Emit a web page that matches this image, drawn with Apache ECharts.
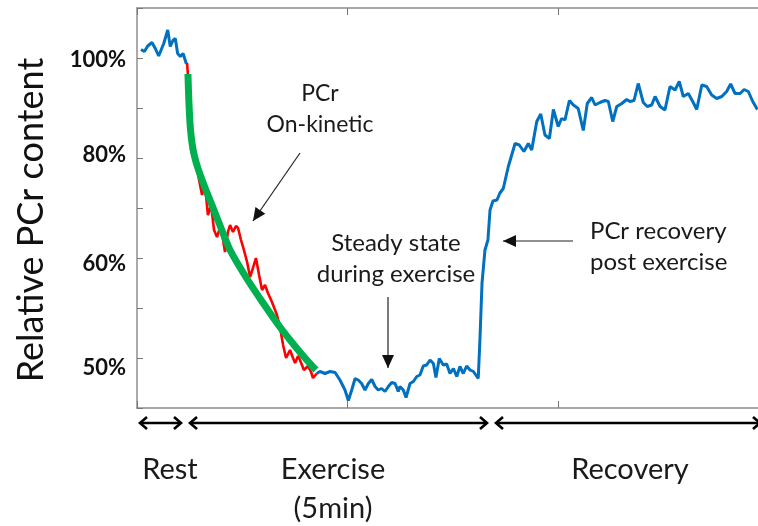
<!DOCTYPE html>
<html><head><meta charset="utf-8">
<script src="https://cdn.jsdelivr.net/npm/echarts@6/dist/echarts.min.js"></script>
<style>html,body{margin:0;padding:0;background:#fff}#c{width:758px;height:526px}</style>
</head><body><div id="c"></div>
<script>
// Rest (blue)
const restT = [1.9,3.5,5.1,7.1,8.7,10.3,12.7,14.6,15.8,17.1,18.2,19.3,20.6,21.9,23.4,23.8];
const restV = [101.7,101.3,102.4,103.1,101.9,100.4,102.9,105.6,102.3,103.5,103.9,100.9,100.3,100.9,98.9,99.0];
// Exercise on-kinetic (red)
const exT = [23.8,24.2,25.2,25.7,26.6,28.0,29.5,30.9,32.3,33.7,35.2,36.6,38.0,39.4,40.9,41.8,43.2,44.2,45.6,47.0,48.0,49.4,50.4,52.3,53.7,55.1,56.5,58.0,59.4,60.8,62.2,64.1,66.5,67.9,69.4,70.8,72.7,74.1,75.1,76.5,77.4,79.3,81.2,82.7,83.6,85.4];
const exV = [99.0,96.6,87.6,81.6,80.2,79.0,75.6,72.6,74.6,68.6,70.6,65.6,64.2,66.0,63.6,61.2,65.2,66.6,65.2,66.4,66.0,63.6,62.2,59.2,56.2,58.0,60.0,56.6,53.6,54.6,53.0,51.2,48.6,46.2,42.6,40.0,41.6,40.0,39.0,40.4,39.6,37.6,38.4,37.2,36.0,36.9];
// Fitted mono-exponential (green)
const fitT = [24.2,24.5,24.9,25.4,26.2,27.4,28.9,31.8,35.6,39.9,44.2,52.3,59.9,67.9,74.6,79.8,85.0];
const fitV = [96.8,93.0,89.0,85.8,82.8,80.2,78.0,74.6,70.6,66.0,61.6,55.8,51.0,46.2,42.6,40.0,37.6];
// Steady state + recovery (blue)
const postT = [85.4,86.9,89.3,91.7,94.1,96.4,98.8,100.4,102.0,103.6,105.1,106.7,108.3,109.9,111.5,113.1,114.6,116.2,117.8,119.4,121.0,122.6,124.1,124.9,126.5,127.8,129.7,131.3,132.9,134.4,136.0,137.6,139.2,140.8,142.0,143.6,145.5,147.1,148.7,150.3,151.9,153.4,155.0,156.6,158.2,159.8,162.1,
  162.9,163.9,165.3,166.7,167.7,169.1,171.0,172.4,174.0,176.4,179.6,181.6,183.8,185.9,187.5,189.9,191.8,193.8,195.9,197.8,200.1,201.7,203.3,205.4,207.3,209.6,212.0,213.9,216.0,217.6,219.9,222.3,223.9,226.0,227.9,230.3,232.6,234.2,236.1,238.1,240.5,242.4,244.5,246.1,248.5,250.8,253.2,255.6,257.6,259.5,261.9,264.0,265.9,268.3,270.6,273.0,275.4,277.8,280.1,282.0,284.1,286.5,288.4,290.4,292.5,294.7];
const postV = [36.9,37.3,36.9,37.3,37.1,35.6,33.6,31.5,33.6,35.9,35.6,34.9,33.6,34.9,35.7,34.3,33.6,33.9,33.3,34.3,35.1,34.9,33.3,34.3,33.6,32.1,34.9,35.3,36.3,36.6,38.4,38.6,39.6,38.9,36.1,39.9,38.6,38.8,36.9,37.9,36.3,38.3,36.9,38.4,37.6,37.3,35.9,
  43.6,55.0,61.6,63.6,69.6,71.4,71.6,73.0,73.9,78.3,82.9,82.6,81.3,82.9,81.6,87.3,88.8,84.6,83.9,89.7,86.3,87.9,87.6,91.5,90.6,89.9,85.5,90.9,92.1,90.6,91.1,91.5,91.3,87.3,90.3,90.9,91.7,91.3,91.5,94.9,91.1,90.3,90.6,92.3,90.3,89.6,94.3,93.6,95.3,92.3,92.9,91.3,89.7,94.6,94.3,92.6,91.9,92.3,93.3,94.8,92.9,92.9,93.7,93.3,91.3,89.7];
// Y tick labels (axis value -> printed label)
const tickValues = [100, 80, 60, 40];
const tickLabels = ['100%', '80%', '60%', '50%'];

const zip = (a, b) => a.map((v, i) => [v, b[i]]);
const FONT = 'Lato';
const FRAME = '#8f8f8f';
const labelStyle = ['a', 'b', 'c', 'd'];

function arrowHead(tx, ty, fx, fy, len, hw) {
  const dx = tx - fx, dy = ty - fy, d = Math.hypot(dx, dy);
  const ux = dx / d, uy = dy / d;
  const bx = tx - ux * len, by = ty - uy * len;
  return [[tx, ty], [bx - uy * hw, by + ux * hw], [bx + uy * hw, by - ux * hw]];
}
function pointer(fx, fy, tx, ty) {
  return [
    {type: 'line', shape: {x1: fx, y1: fy, x2: tx, y2: ty}, style: {stroke: '#222', lineWidth: 1.2}},
    {type: 'polygon', shape: {points: arrowHead(tx, ty, fx, fy, 13, 6)}, style: {fill: '#111'}}
  ];
}
function span(x1, x2, y) {
  const h = 7, w = 6;
  return [
    {type: 'line', shape: {x1: x1, y1: y, x2: x2, y2: y}, style: {stroke: '#000', lineWidth: 2.6}},
    {type: 'polyline', shape: {points: [[x1 + h, y - w], [x1, y], [x1 + h, y + w]]}, style: {stroke: '#000', lineWidth: 2.6, fill: null}},
    {type: 'polyline', shape: {points: [[x2 - h, y - w], [x2, y], [x2 - h, y + w]]}, style: {stroke: '#000', lineWidth: 2.6, fill: null}}
  ];
}
function txt(x, y, s, size, align) {
  return {type: 'text', x: x, y: y, style: {text: s, fontFamily: FONT, fontSize: size, fill: '#1a1a1a', align: align || 'center', verticalAlign: 'middle'}};
}

const chart = echarts.init(document.getElementById('c'), null, {renderer: 'canvas'});
const xCommon = {type: 'value', min: 0, max: 295, interval: 100,
  axisLine: {show: true, lineStyle: {color: FRAME, width: 1.5}},
  axisTick: {show: true, inside: true, length: 7, lineStyle: {color: '#777', width: 1}},
  axisLabel: {show: false}, splitLine: {show: false}};
const lblBase = {fontFamily: FONT, fontWeight: 'bold', fontSize: 22, color: '#111'};
chart.setOption({
  animation: false,
  backgroundColor: '#fff',
  grid: {left: 137, top: 8, right: 0, bottom: 118},
  xAxis: [Object.assign({position: 'bottom'}, xCommon), Object.assign({position: 'top'}, xCommon)],
  yAxis: {
    type: 'value', min: 30, max: 110, interval: 10,
    name: 'Relative PCr content', nameLocation: 'middle', nameGap: 88, nameRotate: 90,
    nameTextStyle: {fontFamily: FONT, fontSize: 36, color: '#111', padding: [0, 24, 0, 0]},
    axisLine: {show: true, lineStyle: {color: FRAME, width: 1.5}},
    axisTick: {show: true, inside: true, length: 6, lineStyle: {color: '#777', width: 1}},
    splitLine: {show: false},
    axisLabel: {
      margin: 11, fontFamily: FONT, fontWeight: 'bold', fontSize: 22, color: '#111',
      formatter: v => { const i = tickValues.indexOf(v); return i < 0 ? '' : '{' + labelStyle[i] + '|' + tickLabels[i] + '}'; },
      rich: {
        a: Object.assign({padding: [4, 0, 0, 0]}, lblBase),
        b: Object.assign({padding: [0, 0, 6, 0]}, lblBase),
        c: Object.assign({padding: [12, 0, 0, 0]}, lblBase),
        d: Object.assign({padding: [20, 0, 0, 0]}, lblBase)
      }
    }
  },
  series: [
    {type: 'line', data: zip(restT, restV), showSymbol: false, lineStyle: {color: '#0070c0', width: 3}, z: 3},
    {type: 'line', data: zip(postT, postV), showSymbol: false, lineStyle: {color: '#0070c0', width: 3}, z: 3},
    {type: 'line', data: zip(exT, exV), showSymbol: false, lineStyle: {color: '#ff0000', width: 2.6}, z: 4},
    {type: 'line', data: zip(fitT, fitV), showSymbol: false, smooth: 0.3, lineStyle: {color: '#00b050', width: 7}, z: 5}
  ],
  graphic: {elements: [].concat(
    pointer(300, 153, 253, 221),
    pointer(388, 297, 388, 368),
    pointer(573, 241, 503, 241),
    span(140, 181, 423), span(190, 487, 423), span(496, 760, 423),
    [
      txt(320, 94, 'PCr', 23), txt(320, 125, 'On-kinetic', 23),
      txt(396, 243, 'Steady state', 24), txt(396, 274, 'during exercise', 24),
      txt(590, 231, 'PCr recovery', 24, 'left'), txt(590, 262, 'post exercise', 24, 'left'),
      txt(170, 470, 'Rest', 29), txt(333, 470, 'Exercise', 29), txt(333, 509, '(5min)', 29), txt(630, 470, 'Recovery', 29)
    ]
  )}
});
</script></body></html>
